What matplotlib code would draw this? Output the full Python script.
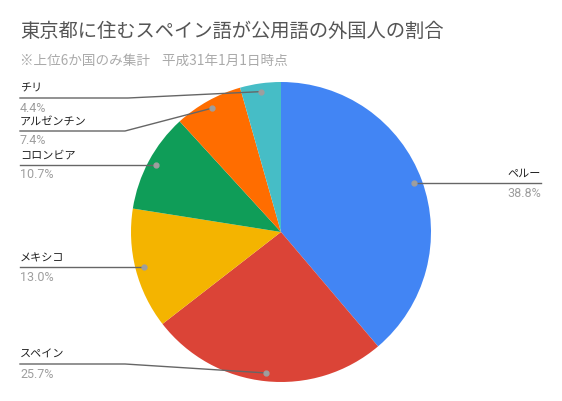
import numpy as np
import matplotlib.pyplot as plt

plt.rcParams['font.family'] = ['Noto Sans CJK JP', 'DejaVu Sans']

# data (clockwise from 12 o'clock)
countries = ["ペルー", "スペイン", "メキシコ", "コロンビア", "アルゼンチン", "チリ"]
shares = [38.8, 25.7, 13.0, 10.7, 7.4, 4.4]
colors = ["#4285F4", "#DB4437", "#F4B400", "#0F9D58", "#FF6D00", "#46BDC6"]

title = "東京都に住むスペイン語が公用語の外国人の割合"
subtitle = "※上位6か国のみ集計    平成31年1月1日時点"

W, H = 562, 401
CX, CY, R = 281, 232, 150          # pie centre / radius in pixels
# label layout: line y (None = use the dot's own y) and elbow x
label_y = [None, 364, None, None, 131, 98]
elbow_x = [None, 125, None, None, 125, 128]

fig = plt.figure(figsize=(W / 100, H / 100), dpi=100)
fig.patch.set_facecolor("white")

ax = fig.add_axes([(CX - R) / W, (H - CY - R) / H, 2 * R / W, 2 * R / H])
ax.pie(shares, colors=colors, startangle=90, counterclock=False, radius=1,
       wedgeprops=dict(linewidth=0))
ax.set_xlim(-1, 1)
ax.set_ylim(-1, 1)
ax.axis("off")

ov = fig.add_axes([0, 0, 1, 1], zorder=5)
ov.set_xlim(0, W)
ov.set_ylim(H, 0)
ov.axis("off")

total = sum(shares)
start = 90.0
for name, val, ly, ex in zip(countries, shares, label_y, elbow_x):
    frac = val / total
    mid = np.deg2rad(start - frac * 360 / 2)
    start -= frac * 360
    dx = CX + 0.945 * R * np.cos(mid)
    dy = CY - 0.945 * R * np.sin(mid)
    pct = f"{100 * frac:.1f}%"
    if dx > CX:
        # right-hand label
        ov.plot([dx, 541], [dy, dy], color="#666666", lw=1)
        ov.text(541, dy - 9, name, ha="right", va="center", fontsize=8, color="#222222")
        ov.text(541, dy + 10, pct, ha="right", va="center", fontsize=9,
                color="#9e9e9e", family=["Roboto", "DejaVu Sans"])
    else:
        y = dy if ly is None else ly
        xs = [20, dx] if ex is None else [20, ex, dx]
        ys = [y, dy] if ex is None else [y, y, dy]
        ov.plot(xs, ys, color="#666666", lw=1)
        ov.text(20, y - 9, name, ha="left", va="center", fontsize=8, color="#222222")
        ov.text(20, y + 10, pct, ha="left", va="center", fontsize=9,
                color="#9e9e9e", family=["Roboto", "DejaVu Sans"])
    ov.plot(dx, dy, "o", color="#9e9e9e", ms=3.5, zorder=6)

ov.text(20, 31, title, ha="left", va="center", fontsize=13.9, color="#555555")
ov.text(20, 61, subtitle, ha="left", va="center", fontsize=9.8, color="#aaaaaa")

fig.savefig("out.png", dpi=100, facecolor="white")
